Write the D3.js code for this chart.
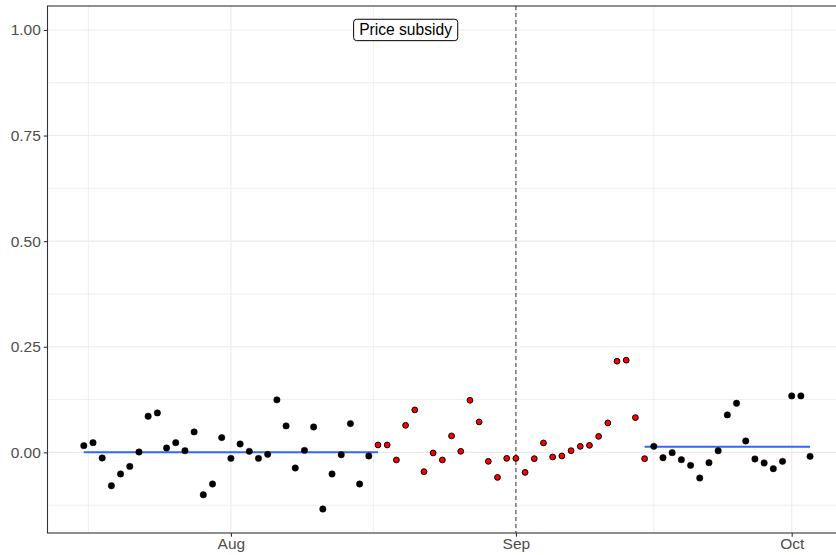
<!DOCTYPE html>
<html>
<head>
<meta charset="utf-8">
<script src="https://cdn.jsdelivr.net/npm/d3@7"></script>
<style>
  html, body { margin: 0; padding: 0; background: #ffffff; }
  svg { display: block; }
</style>
</head>
<body>
<div id="chart"></div>
<script>
// ---------------- data ----------------
const startDate = "2020-07-16";
const values = [
  0.0159, 0.0230, -0.0133, -0.0790, -0.0512, -0.0332, 0.0009, 0.0854, 0.0934, 0.0104,
  0.0230, 0.0040, 0.0484, -0.1003, -0.0749, 0.0349,
  -0.0142, 0.0199, 0.0024, -0.0142, -0.0047, 0.1243, 0.0626, -0.0370, 0.0047, 0.0602,
  -0.1342, -0.0512, -0.0055, 0.0681, -0.0749, -0.0085,
  0.0175, 0.0175, -0.0180, 0.0640, 0.1005, -0.0458, -0.0014, -0.0180, 0.0389, 0.0024,
  0.1233, 0.0721, -0.0213, -0.0593, -0.0142,
  -0.0142, -0.0474, -0.0149, 0.0223, -0.0109, -0.0085, 0.0040, 0.0142, 0.0166, 0.0379,
  0.0697, 0.2158, 0.2182, 0.0823, -0.0149,
  0.0142, -0.0126, -0.0007, -0.0173, -0.0308, -0.0607, -0.0244, 0.0038, 0.0887, 0.1162,
  0.0270, -0.0157, -0.0251, -0.0387, -0.0213,
  0.1337, 0.1337, -0.0095
];
const treatStart = "2020-08-17";
const treatEnd = "2020-09-15";
const eventDate = "2020-09-01";
// fitted level lines: [start, end, value]
const fitStarts = ["2020-07-16", "2020-09-15"];
const fitEnds = ["2020-08-17", "2020-10-03"];
const fitValues = [0.0003, 0.0135];
const labelText = "Price subsidy";
const labelDate = "2020-08-20";
const labelValue = 1.0;
const yTicks = [0, 0.25, 0.5, 0.75, 1.0];
const yMinor = [-0.125, 0.125, 0.375, 0.625, 0.875];
const xTickDates = ["2020-08-01", "2020-09-01", "2020-10-01"];
const xTickLabels = ["Aug", "Sep", "Oct"];
const xMinorDates = ["2020-07-16T12:00", "2020-08-16T12:00", "2020-09-16T00:00"];

// ---------------- setup ----------------
const W = 836, H = 555;
const parse = s => new Date(s + (s.length === 10 ? "T00:00" : ""));
const DAY = 86400000;
const t0 = parse(startDate);
const pts = values.map((v, i) => ({ date: new Date(t0.getTime() + i * DAY), value: v }));
const tsS = parse(treatStart).getTime(), tsE = parse(treatEnd).getTime();
pts.forEach(p => { p.treat = p.date.getTime() >= tsS && p.date.getTime() <= tsE; });

const dMin = d3.min(pts, p => p.date).getTime();
const dMax = d3.max(pts, p => p.date).getTime();
const dPad = (dMax - dMin) * 0.05;
const vMin = Math.min(d3.min(values), 0), vMax = labelValue;
const vPad = (vMax - vMin) * 0.05;

const panel = { left: 47.5, top: 6, bottom: 533, right: 846.4 };

const x = d3.scaleTime()
  .domain([new Date(dMin - dPad), new Date(dMax + dPad)])
  .range([panel.left, panel.right]);
const y = d3.scaleLinear()
  .domain([vMin - vPad, vMax + vPad])
  .range([panel.bottom, panel.top]);

const svg = d3.select("#chart").append("svg")
  .attr("width", W).attr("height", H)
  .style("font-family", "'Liberation Sans', Arial, Helvetica, sans-serif");

svg.append("rect").attr("width", W).attr("height", H).attr("fill", "#ffffff");

const defs = svg.append("defs");
defs.append("clipPath").attr("id", "clip")
  .append("rect")
  .attr("x", panel.left).attr("y", panel.top)
  .attr("width", panel.right - panel.left).attr("height", panel.bottom - panel.top);

const g = svg.append("g").attr("clip-path", "url(#clip)");

// grid
g.selectAll("line.ymin").data(yMinor).enter().append("line")
  .attr("x1", panel.left).attr("x2", panel.right)
  .attr("y1", d => y(d)).attr("y2", d => y(d))
  .attr("stroke", "#EBEBEB").attr("stroke-width", 0.8);
g.selectAll("line.xmin").data(xMinorDates).enter().append("line")
  .attr("x1", d => x(parse(d))).attr("x2", d => x(parse(d)))
  .attr("y1", panel.top).attr("y2", panel.bottom)
  .attr("stroke", "#EBEBEB").attr("stroke-width", 0.8);
g.selectAll("line.ymaj").data(yTicks).enter().append("line")
  .attr("x1", panel.left).attr("x2", panel.right)
  .attr("y1", d => y(d)).attr("y2", d => y(d))
  .attr("stroke", "#EBEBEB").attr("stroke-width", 1.1);
g.selectAll("line.xmaj").data(xTickDates).enter().append("line")
  .attr("x1", d => x(parse(d))).attr("x2", d => x(parse(d)))
  .attr("y1", panel.top).attr("y2", panel.bottom)
  .attr("stroke", "#EBEBEB").attr("stroke-width", 1.1);

// event line
g.append("line")
  .attr("x1", x(parse(eventDate))).attr("x2", x(parse(eventDate)))
  .attr("y1", panel.top).attr("y2", panel.bottom)
  .attr("stroke", "#555555").attr("stroke-width", 1.2)
  .attr("stroke-dasharray", "4,3");

// fitted lines
g.selectAll("line.fit").data(fitValues).enter().append("line")
  .attr("x1", (d, i) => x(parse(fitStarts[i])))
  .attr("x2", (d, i) => x(parse(fitEnds[i])))
  .attr("y1", d => y(d)).attr("y2", d => y(d))
  .attr("stroke", "#3366FF").attr("stroke-width", 2);

// points
g.selectAll("circle.pt").data(pts).enter().append("circle")
  .attr("cx", p => x(p.date)).attr("cy", p => y(p.value))
  .attr("r", p => p.treat ? 2.9 : 3.2)
  .attr("fill", p => p.treat ? "#FF0000" : "#000000")
  .attr("stroke", "#000000")
  .attr("stroke-width", p => p.treat ? 1 : 0.5);

// label
const lx = x(parse(labelDate)), ly = y(labelValue);
const lt = svg.append("text")
  .attr("x", lx).attr("y", ly).attr("dy", "0.35em")
  .attr("text-anchor", "middle")
  .attr("font-size", "15.6px").attr("fill", "#000000")
  .text(labelText);
const bb = lt.node().getBBox();
svg.insert("rect", "text")
  .attr("x", bb.x - 5.6).attr("y", ly - 10.7)
  .attr("width", bb.width + 11.2).attr("height", 21.4)
  .attr("rx", 3).attr("ry", 3)
  .attr("fill", "#ffffff").attr("stroke", "#000000").attr("stroke-width", 1);
lt.raise();

// panel border
svg.append("rect")
  .attr("x", panel.left).attr("y", panel.top)
  .attr("width", panel.right - panel.left).attr("height", panel.bottom - panel.top)
  .attr("fill", "none").attr("stroke", "#333333").attr("stroke-width", 1.1);

// axes
const yAxis = d3.axisLeft(y).tickValues(yTicks).tickFormat(d3.format(".2f"))
  .tickSize(3.7).tickPadding(3);
const ya = svg.append("g").attr("transform", `translate(${panel.left},0)`).call(yAxis);
ya.select(".domain").remove();
ya.selectAll(".tick line").attr("stroke", "#333333").attr("stroke-width", 1.1);
ya.selectAll(".tick text").attr("fill", "#4D4D4D").attr("font-size", "15.5px")
  .attr("font-family", "'Liberation Sans', Arial, Helvetica, sans-serif");

const xAxis = d3.axisBottom(x).tickValues(xTickDates.map(parse))
  .tickFormat((d, i) => xTickLabels[i]).tickSize(3.7).tickPadding(1);
const xa = svg.append("g").attr("transform", `translate(0,${panel.bottom})`).call(xAxis);
xa.select(".domain").remove();
xa.selectAll(".tick line").attr("stroke", "#333333").attr("stroke-width", 1.1);
xa.selectAll(".tick text").attr("fill", "#4D4D4D").attr("font-size", "15.5px")
  .attr("font-family", "'Liberation Sans', Arial, Helvetica, sans-serif");
</script>
</body>
</html>
